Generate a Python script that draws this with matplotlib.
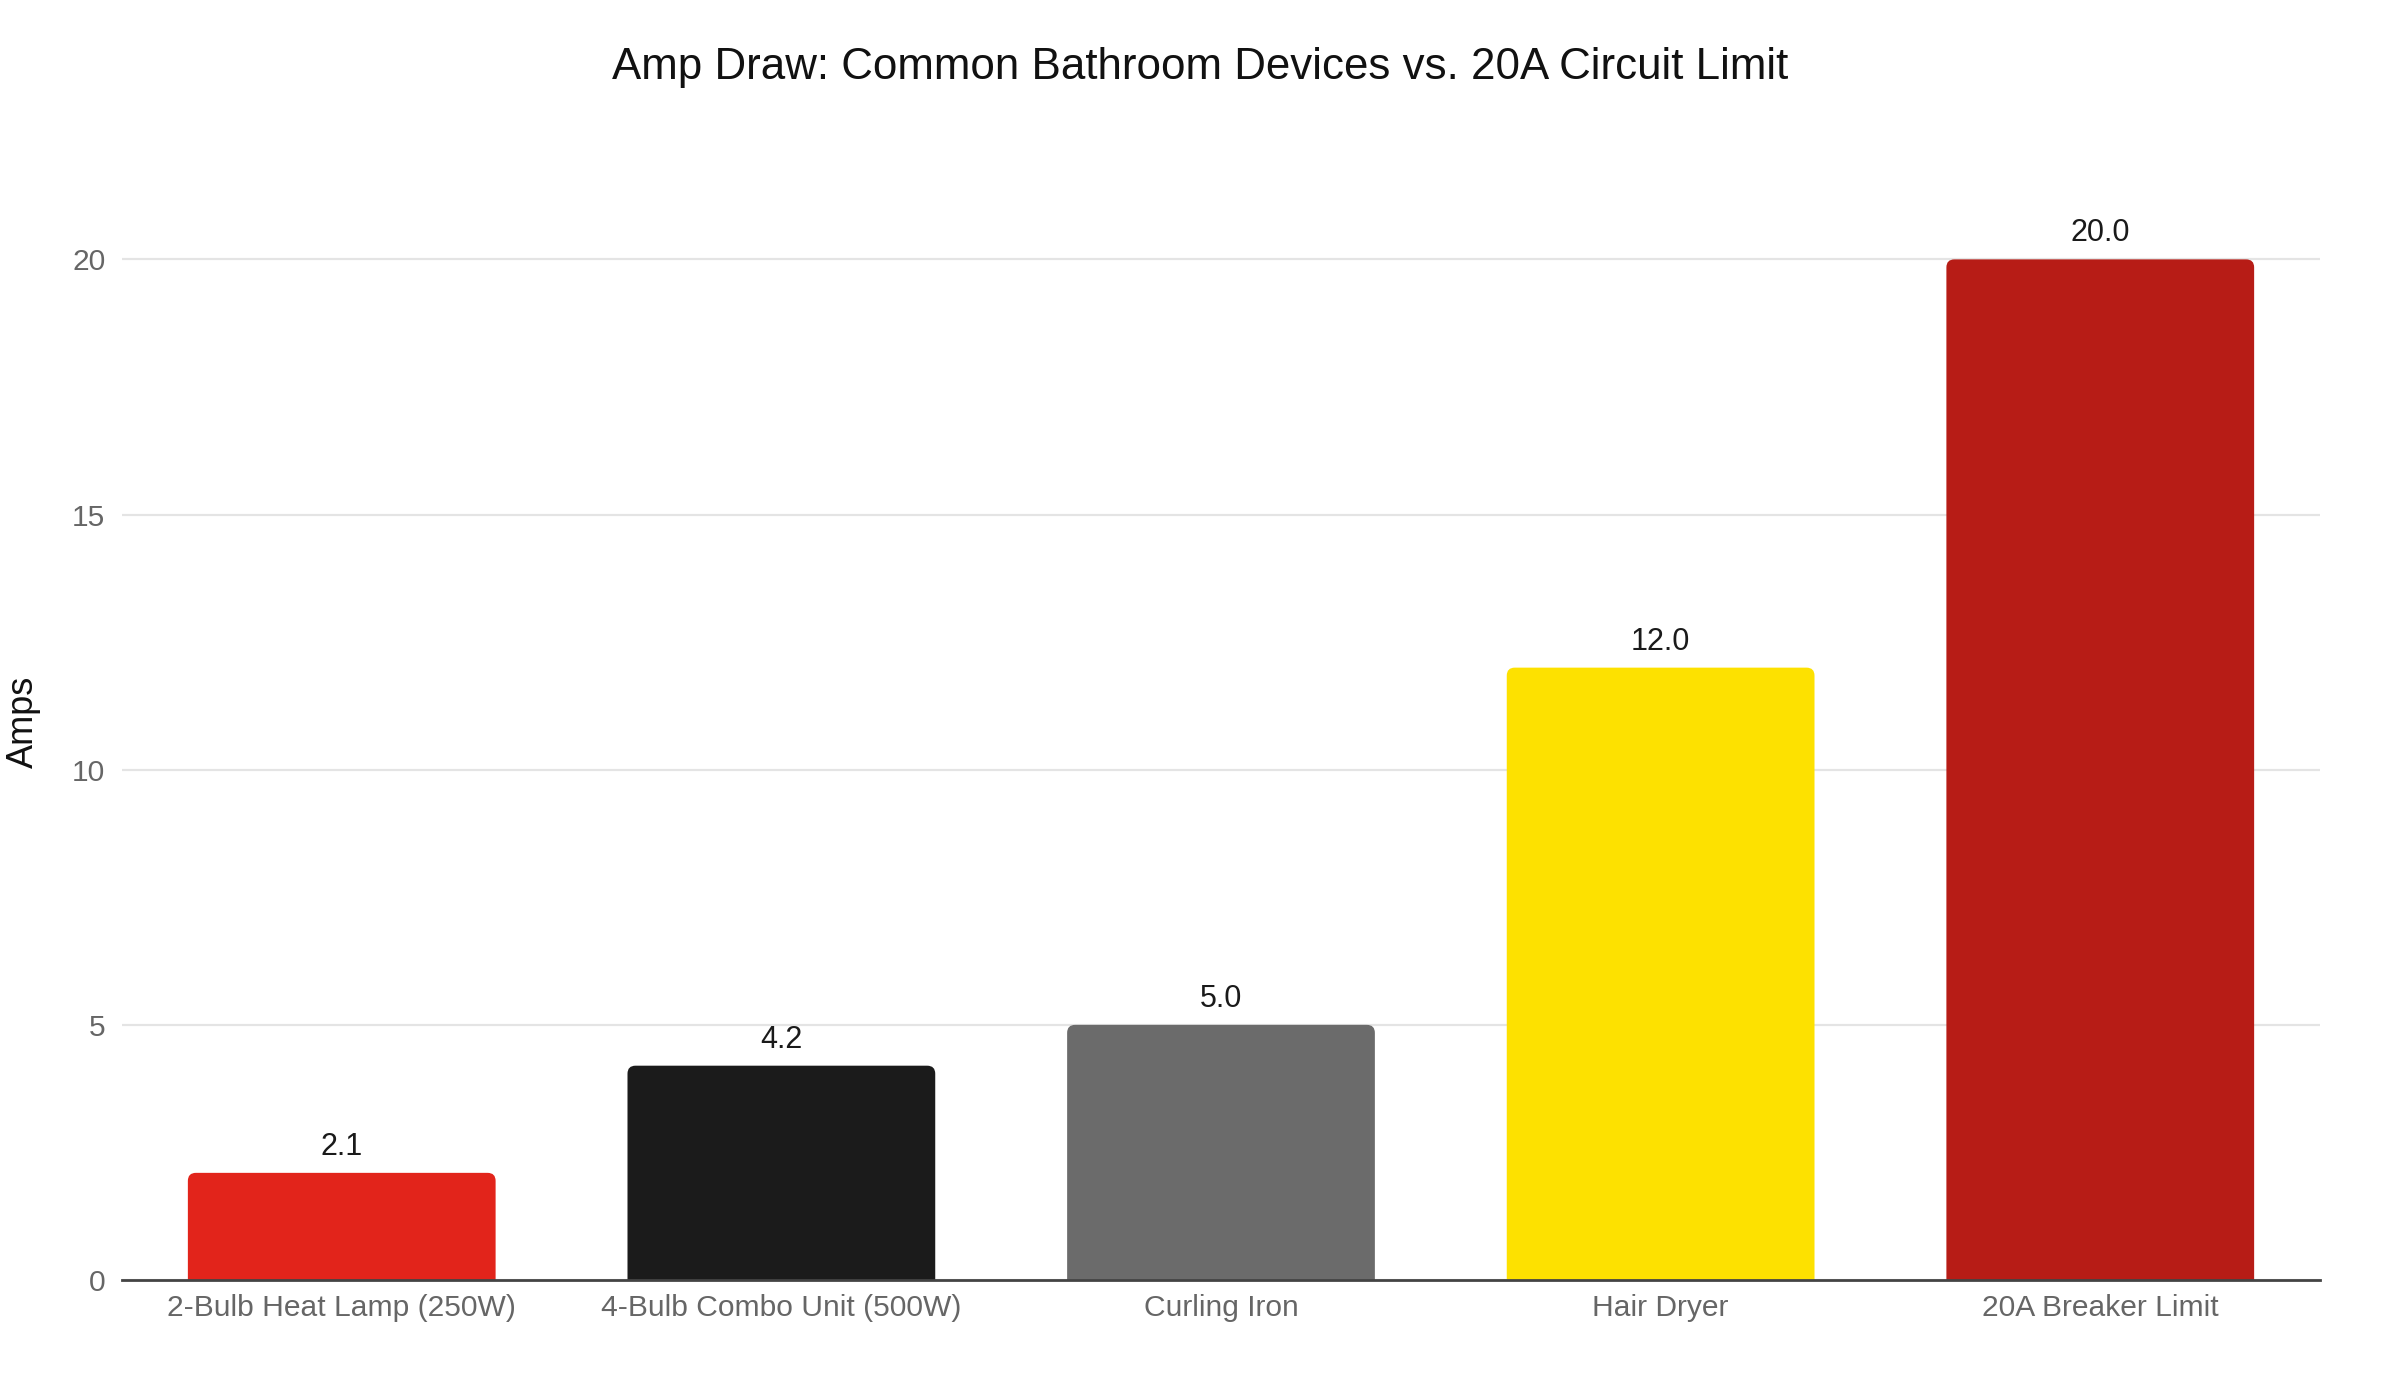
"""Amp draw of common bathroom devices against a 20A circuit limit."""

import matplotlib

matplotlib.use("Agg")
import matplotlib.pyplot as plt
from matplotlib.patches import FancyBboxPatch

devices = [
    "2-Bulb Heat Lamp (250W)",
    "4-Bulb Combo Unit (500W)",
    "Curling Iron",
    "Hair Dryer",
    "20A Breaker Limit",
]
amps = [2.1, 4.2, 5.0, 12.0, 20.0]
bar_colors = ["#E2241B", "#1B1B1B", "#6B6B6B", "#FDE100", "#B71C16"]
y_ticks = [0, 5, 10, 15, 20]

plt.rcParams.update(
    {
        "font.family": ["Liberation Sans", "DejaVu Sans"],
        "figure.facecolor": "white",
    }
)

figure = plt.figure(figsize=(12, 7), dpi=200)
axis = figure.add_axes([0.0508, 0.0857, 0.9159, 0.7673])

bars = axis.bar(range(len(devices)), amps, width=0.7, color=bar_colors)

# swap the square bars for ones with slightly rounded tops
x_per_px = 5 / (0.9159 * 2400)
y_per_px = 21.05 / (0.7673 * 1400)
radius = 8 * x_per_px
for rect in bars:
    x, w, h = rect.get_x(), rect.get_width(), rect.get_height()
    rect.set_visible(False)
    extra = radius * (y_per_px / x_per_px)
    patch = FancyBboxPatch(
        (x, -extra),
        w,
        h + extra,
        boxstyle=f"round,pad=0,rounding_size={radius}",
        mutation_aspect=y_per_px / x_per_px,
        facecolor=rect.get_facecolor(),
        edgecolor="none",
        clip_on=True,
        zorder=2,
    )
    axis.add_patch(patch)
    axis.annotate(
        f"{h:.1f}",
        (x + w / 2, h),
        xytext=(0, 4),
        textcoords="offset points",
        ha="center",
        va="bottom",
        fontsize=11,
        color="#1A1A1A",
    )

axis.set_xlim(-0.5, len(devices) - 0.5)
axis.set_ylim(0, 21.05)
axis.set_xticks(range(len(devices)), labels=devices)
axis.set_yticks(y_ticks)
axis.tick_params(axis="both", length=0, labelsize=10.8, colors="#666666")
axis.tick_params(axis="x", pad=5)
axis.tick_params(axis="y", pad=6)
axis.grid(True, axis="y", color="#E4E4E4", linewidth=0.8)
axis.set_axisbelow(True)
for side in ("top", "right", "left"):
    axis.spines[side].set_visible(False)
axis.spines["bottom"].set_color("#444444")
axis.spines["bottom"].set_linewidth(1.0)
axis.spines["bottom"].set_zorder(3)

axis.set_ylabel("Amps", fontsize=13, color="#111111")
axis.yaxis.set_label_coords(-0.037, 0.52)
figure.text(
    0.5,
    0.952,
    "Amp Draw: Common Bathroom Devices vs. 20A Circuit Limit",
    ha="center",
    va="center",
    fontsize=15.8,
    color="#111111",
)

figure.savefig("out.png", dpi=200)
